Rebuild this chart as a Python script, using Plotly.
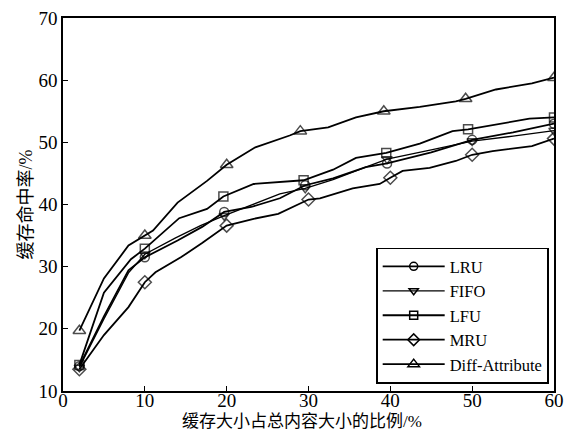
import plotly.graph_objects as go

# ---- data ----
lru_x = [2, 5, 8, 10, 14, 17, 19.7, 23, 26.5, 29.6, 33, 37, 39.6, 45, 50, 55, 60]
lru_y = [14.0, 22.0, 29.4, 31.5, 34.2, 36.4, 38.8, 39.6, 41.0, 43.1, 44.2, 46.0, 46.6, 48.4, 50.4, 51.6, 53.0]
lru_mk = [2, 10, 19.7, 29.6, 39.6, 50, 60]

fifo_x = [2, 5, 8, 10, 13.7, 16.8, 19.7, 23.3, 26.5, 29.6, 33, 37, 39.6, 45, 50, 55, 60]
fifo_y = [13.8, 21.6, 29.0, 32.0, 34.6, 36.6, 38.2, 40.1, 41.7, 42.6, 44.0, 46.0, 47.3, 48.8, 50.2, 51.0, 51.9]
fifo_mk = [2, 10, 19.7, 29.6, 39.6, 50, 60]

lfu_x = [2, 5, 8.3, 10, 14.2, 17.6, 19.6, 23.3, 29.4, 33, 35.8, 39.5, 43.6, 47.6, 49.5, 54.9, 57, 60]
lfu_y = [14.2, 25.8, 31.2, 32.9, 37.8, 39.3, 41.3, 43.3, 43.9, 45.6, 47.5, 48.3, 49.8, 51.8, 52.1, 53.4, 53.8, 54.0]
lfu_mk = [2, 10, 19.6, 29.4, 39.5, 49.5, 60]

mru_x = [2, 5, 8, 10, 11.3, 14.4, 17, 20, 23.3, 26.3, 30, 31.4, 35.4, 38.7, 40, 41.5, 44.8, 48, 50, 52.5, 57.3, 60]
mru_y = [13.5, 19.0, 23.5, 27.5, 29.1, 31.5, 33.8, 36.6, 37.7, 38.5, 40.8, 41.0, 42.6, 43.3, 44.3, 45.4, 45.9, 47.0, 48.0, 48.6, 49.4, 50.6]
mru_mk = [2, 10, 20, 30, 40, 50, 60]

da_x = [2, 5, 8, 10, 11, 14, 17.6, 20, 23.5, 27.7, 29, 32.4, 35.8, 39.2, 43.6, 48, 49.2, 52.9, 57.3, 60]
da_y = [19.7, 28.1, 33.4, 35.0, 35.8, 40.3, 43.8, 46.4, 49.2, 51.1, 51.8, 52.4, 54.0, 55.0, 55.7, 56.6, 57.0, 58.5, 59.5, 60.4]
da_mk = [2, 10, 20, 29, 39.2, 49.2, 60]

names = ["LRU", "FIFO", "LFU", "MRU", "Diff-Attribute"]
x_ticks = [0, 10, 20, 30, 40, 50, 60]
y_ticks = [10, 20, 30, 40, 50, 60, 70]
x_title = "缓存大小占总内容大小的比例/%"
y_title = "缓存命中率/%"

series = [
    (lru_x, lru_y, lru_mk, "circle-open", 1.8, 9),
    (fifo_x, fifo_y, fifo_mk, "triangle-down-open", 1.3, 9),
    (lfu_x, lfu_y, lfu_mk, "square-open", 1.8, 9),
    (mru_x, mru_y, mru_mk, "diamond-open", 1.8, 10),
    (da_x, da_y, da_mk, "triangle-up-open", 1.8, 11),
]

FONT = "Liberation Serif, Times New Roman, Noto Sans CJK SC, serif"
fig = go.Figure()

for name, (xs, ys, mk, sym, lw, ms) in zip(names, series):
    sizes = [ms if x in mk else 0 for x in xs]
    fig.add_trace(go.Scatter(
        x=xs, y=ys, mode="lines+markers", name=name, showlegend=False,
        line=dict(color="black", width=lw),
        marker=dict(symbol=sym, size=sizes, color="black",
                    line=dict(color="black", width=1.5)),
    ))

for name, (xs, ys, mk, sym, lw, ms) in zip(names, series):
    fig.add_trace(go.Scatter(
        x=[None], y=[None], mode="lines+markers", name=name,
        line=dict(color="black", width=lw),
        marker=dict(symbol=sym, size=ms - 1, color="black",
                    line=dict(color="black", width=1.5)),
    ))

axis_common = dict(
    showgrid=False, zeroline=False, showline=True, mirror=True,
    linecolor="black", linewidth=1.6, ticks="inside", ticklen=5,
    tickwidth=1.4, tickcolor="black",
    tickfont=dict(family=FONT, size=19, color="black"),
)

fig.update_xaxes(range=[0, 60], tickvals=x_ticks, ticklabelstandoff=-9, **axis_common)
fig.update_yaxes(range=[10, 70], tickvals=y_ticks, **axis_common)

fig.update_layout(
    width=572, height=434,
    margin=dict(l=63, r=8, t=14, b=43),
    plot_bgcolor="white", paper_bgcolor="white",
    font=dict(family=FONT, color="black"),
    legend=dict(
        x=0.99, y=0.02, xanchor="right", yanchor="bottom",
        bgcolor="white", bordercolor="black", borderwidth=1.6,
        font=dict(family=FONT, size=16.5, color="black"),
        itemwidth=62, tracegroupgap=0,
    ),
    annotations=[
        dict(text=x_title, xref="paper", yref="paper", x=0.486, y=0,
             xanchor="center", yanchor="middle", yshift=-30, showarrow=False,
             font=dict(family=FONT, size=17, color="black")),
        dict(text=y_title, xref="paper", yref="paper", x=0, y=0.5,
             xanchor="center", yanchor="middle", xshift=-38, textangle=-90,
             showarrow=False,
             font=dict(family=FONT, size=18, color="black")),
    ],
)

fig.write_html(
    "out.html",
    config={"displayModeBar": False},
    post_script="document.body.style.margin='0';document.body.style.overflow='hidden';",
)
